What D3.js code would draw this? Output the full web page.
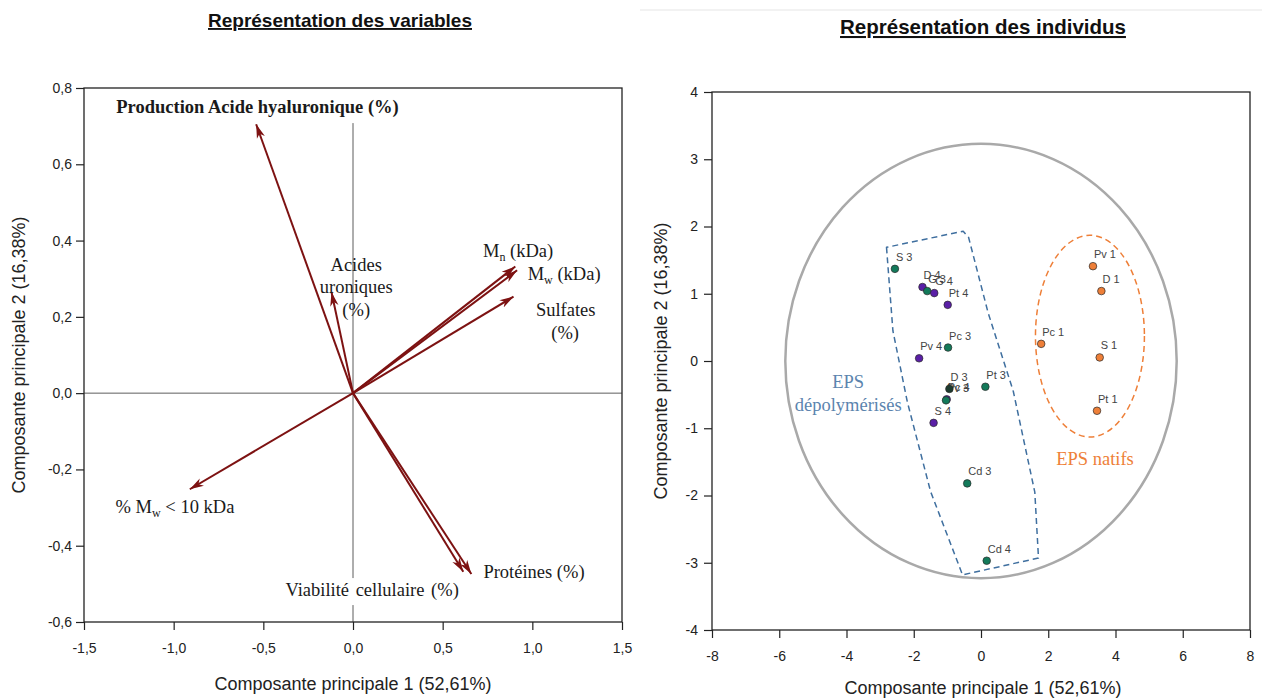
<!DOCTYPE html>
<html>
<head>
<meta charset="utf-8">
<script src="https://cdn.jsdelivr.net/npm/d3@7"></script>
<style>
  html, body { margin: 0; padding: 0; background: #fff; }
  svg { display: block; }
</style>
</head>
<body>
<svg id="chart" width="1262" height="699"></svg>
<script>
// ---------- DATA: variables (correlation circle) ----------
const varNames = ["Production Acide hyaluronique (%)", "Acides uroniques (%)", "Mn (kDa)", "Mw (kDa)",
                  "Sulfates (%)", "% Mw < 10 kDa", "Viabilité cellulaire (%)", "Protéines (%)"];
const varPC1 = [-0.54, -0.12, 0.905, 0.915, 0.895, -0.91, 0.615, 0.66];
const varPC2 = [0.705, 0.265, 0.332, 0.322, 0.253, -0.252, -0.468, -0.474];

// ---------- DATA: individuals ----------
const indNames  = ["S 3", "D 4", "G 3", "G 4", "Pt 4", "Pc 3", "Pv 4", "Pc 4", "D 3", "Pv 3", "Pt 3", "S 4", "Cd 3", "Cd 4",
                   "Pv 1", "D 1", "Pc 1", "S 1", "Pt 1"];
const indPC1    = [-2.56, -1.74, -1.60, -1.39, -0.99, -0.98, -1.84, -1.02, -0.94, -1.04, 0.13, -1.41, -0.41, 0.17,
                   3.33, 3.58, 1.79, 3.53, 3.45];
const indPC2    = [1.37, 1.10, 1.04, 1.01, 0.835, 0.20, 0.04, -0.57, -0.415, -0.585, -0.383, -0.92, -1.82, -2.97,
                   1.41, 1.04, 0.255, 0.053, -0.74];
const indGroup  = ["g", "p", "g", "p", "p", "g", "p", "p", "d", "g", "g", "p", "g", "g",
                   "o", "o", "o", "o", "o"];

// ---------- tick values ----------
const leftXTicks = [-1.5, -1.0, -0.5, 0.0, 0.5, 1.0, 1.5];
const leftYTicks = [-0.6, -0.4, -0.2, 0.0, 0.2, 0.4, 0.6, 0.8];
const rightXTicks = [-8, -6, -4, -2, 0, 2, 4, 6, 8];
const rightYTicks = [-4, -3, -2, -1, 0, 1, 2, 3, 4];

// ---------- enclosing shapes (data units) ----------
const bigEllipse = [0, 0, 5.82, 3.23];        // cx, cy, rx, ry
const nativeEllipse = [3.24, 0.37, 1.62, 1.50];
const depolyHullX = [-2.81, -2.62, -2.19, -1.50, -0.55, 1.71, 1.60, 0.96, 0.21, -0.37, -0.53];
const depolyHullY = [1.69, 0.45, -0.61, -1.94, -3.18, -2.93, -1.95, -0.45, 0.72, 1.84, 1.93];

const svg = d3.select("#chart");
const fixMinus = s => s.replace("\u2212", "-");
const fmtComma = d => fixMinus(d3.format(".1f")(d).replace(".", ","));
const fmtInt = d => fixMinus(d3.format("d")(d));

// ================= LEFT PANEL =================
const xL = d3.scaleLinear().domain([-1.5, 1.5]).range([84, 622]);
const yL = d3.scaleLinear().domain([-0.6, 0.8]).range([622, 88]);
const left = svg.append("g");

left.append("text").attr("x", 340).attr("y", 27).attr("text-anchor", "middle")
  .attr("font-family", "Liberation Sans, Arial").attr("font-weight", "bold").attr("font-size", 19)
  .attr("text-decoration", "underline").attr("fill", "#111").text("Représentation des variables");

// axes
const axL = left.append("g").attr("transform", `translate(${xL.range()[0]},0)`)
  .call(d3.axisLeft(yL).tickValues(leftYTicks).tickFormat(fmtComma).tickSize(8).tickSizeOuter(0).tickPadding(4));
const axB = left.append("g").attr("transform", `translate(0,${yL.range()[0]})`)
  .call(d3.axisBottom(xL).tickValues(leftXTicks).tickFormat(fmtComma).tickSize(8).tickSizeOuter(0).tickPadding(13));
[axL, axB].forEach(a => {
  a.select(".domain").remove();
  a.selectAll("line").attr("stroke", "#222").attr("stroke-width", 1.2);
  a.selectAll("text").attr("font-family", "Liberation Sans, Arial").attr("font-size", 14).attr("fill", "#222");
});
left.append("rect").attr("x", xL.range()[0]).attr("y", yL.range()[1])
  .attr("width", xL.range()[1] - xL.range()[0]).attr("height", yL.range()[0] - yL.range()[1])
  .attr("fill", "none").attr("stroke", "#222").attr("stroke-width", 1.3);

// zero lines
left.append("line").attr("x1", xL.range()[0]).attr("x2", xL.range()[1]).attr("y1", yL(0)).attr("y2", yL(0))
  .attr("stroke", "#333").attr("stroke-width", 0.8);
left.append("line").attr("x1", xL(0)).attr("x2", xL(0)).attr("y1", yL(0.708)).attr("y2", yL.range()[0])
  .attr("stroke", "#333").attr("stroke-width", 0.8);

// axis titles
left.append("text").attr("x", 353).attr("y", 690).attr("text-anchor", "middle")
  .attr("font-family", "Liberation Sans, Arial").attr("font-size", 18).attr("fill", "#222")
  .text("Composante principale 1 (52,61%)");
left.append("text").attr("transform", "translate(25,355) rotate(-90)").attr("text-anchor", "middle")
  .attr("font-family", "Liberation Sans, Arial").attr("font-size", 18).attr("fill", "#222")
  .text("Composante principale 2 (16,38%)");

// arrow marker
const arrowCol = "#7d1212";
svg.append("defs").append("marker").attr("id", "ah")
  .attr("viewBox", "-14 -5 15 10").attr("refX", 0).attr("refY", 0)
  .attr("markerWidth", 15).attr("markerHeight", 10).attr("markerUnits", "userSpaceOnUse")
  .attr("orient", "auto")
  .append("path").attr("d", "M0,0 L-14,-4.2 L-10,0 L-14,4.2 Z").attr("fill", arrowCol);

const serif = "Liberation Serif, Times New Roman";
const labFS = 18.5;

// Viabilité label with white background (interrupts zero line)
const varLabelG = left.append("g").attr("font-family", serif).attr("font-size", labFS).attr("fill", "#1a1a1a");
const via = varLabelG.append("text").attr("x", xL(-0.377)).attr("y", yL(-0.532)).attr("word-spacing", 2).text(varNames[6]);
const vb = via.node().getBBox();
varLabelG.insert("rect", "text").attr("x", vb.x - 2).attr("y", vb.y - 2).attr("width", vb.width + 4).attr("height", vb.height + 6).attr("fill", "#fff");

left.append("g").selectAll("line").data(varNames).join("line")
  .attr("x1", xL(0)).attr("y1", yL(0))
  .attr("x2", (d, i) => xL(varPC1[i])).attr("y2", (d, i) => yL(varPC2[i]))
  .attr("stroke", arrowCol).attr("stroke-width", 2).attr("marker-end", "url(#ah)");

const labG = left.append("g").attr("font-family", serif).attr("font-size", labFS).attr("fill", "#1a1a1a");
labG.append("text").attr("x", xL(-1.32)).attr("y", yL(0.735)).attr("font-weight", "bold").text(varNames[0]);
[["Acides", 0.321], ["uroniques", 0.263], ["(%)", 0.203]].forEach(([t, y]) =>
  labG.append("text").attr("x", xL(0.018)).attr("y", yL(y)).attr("text-anchor", "middle").text(t));
function sub(x, y, main, s, rest) {
  const t = labG.append("text").attr("x", xL(x)).attr("y", yL(y));
  t.append("tspan").text(main);
  t.append("tspan").attr("font-size", 12).attr("dy", 4).text(s);
  t.append("tspan").attr("dy", -4).text(rest);
}
sub(0.725, 0.358, "M", "n", " (kDa)");
sub(0.974, 0.296, "M", "w", " (kDa)");
labG.append("text").attr("x", xL(1.02)).attr("y", yL(0.201)).text("Sulfates");
labG.append("text").attr("x", xL(1.183)).attr("y", yL(0.142)).attr("text-anchor", "middle").text("(%)");
{
  const t = labG.append("text").attr("x", xL(-1.324)).attr("y", yL(-0.314));
  t.append("tspan").text("% M");
  t.append("tspan").attr("font-size", 12).attr("dy", 4).text("w");
  t.append("tspan").attr("dy", -4).text(" < 10 kDa");
}
labG.append("text").attr("x", xL(0.727)).attr("y", yL(-0.485)).text(varNames[7]);

// ================= RIGHT PANEL =================
const xR = d3.scaleLinear().domain([-8, 8]).range([712, 1250]);
const yR = d3.scaleLinear().domain([-4, 4]).range([630, 92]);
const right = svg.append("g");

right.append("line").attr("x1", 640).attr("x2", 1262).attr("y1", 10).attr("y2", 10).attr("stroke", "#eee").attr("stroke-width", 1.5);

right.append("text").attr("x", 983).attr("y", 34).attr("text-anchor", "middle")
  .attr("font-family", "Liberation Sans, Arial").attr("font-weight", "bold").attr("font-size", 20.5)
  .attr("text-decoration", "underline").attr("fill", "#111").text("Représentation des individus");

const axRL = right.append("g").attr("transform", `translate(${xR.range()[0]},0)`)
  .call(d3.axisLeft(yR).tickValues(rightYTicks).tickFormat(fmtInt).tickSize(8).tickSizeOuter(0).tickPadding(6));
const axRB = right.append("g").attr("transform", `translate(0,${yR.range()[0]})`)
  .call(d3.axisBottom(xR).tickValues(rightXTicks).tickFormat(fmtInt).tickSize(8).tickSizeOuter(0).tickPadding(13));
[axRL, axRB].forEach(a => {
  a.select(".domain").remove();
  a.selectAll("line").attr("stroke", "#222").attr("stroke-width", 1.2);
  a.selectAll("text").attr("font-family", "Liberation Sans, Arial").attr("font-size", 14).attr("fill", "#222");
});
right.append("rect").attr("x", xR.range()[0]).attr("y", yR.range()[1])
  .attr("width", xR.range()[1] - xR.range()[0]).attr("height", yR.range()[0] - yR.range()[1])
  .attr("fill", "none").attr("stroke", "#222").attr("stroke-width", 1.3);

right.append("text").attr("x", 983).attr("y", 694).attr("text-anchor", "middle")
  .attr("font-family", "Liberation Sans, Arial").attr("font-size", 18).attr("fill", "#222")
  .text("Composante principale 1 (52,61%)");
right.append("text").attr("transform", "translate(667,361) rotate(-90)").attr("text-anchor", "middle")
  .attr("font-family", "Liberation Sans, Arial").attr("font-size", 18).attr("fill", "#222")
  .text("Composante principale 2 (16,38%)");

// big grey ellipse
right.append("ellipse").attr("cx", xR(bigEllipse[0])).attr("cy", yR(bigEllipse[1]))
  .attr("rx", xR(bigEllipse[2]) - xR(0)).attr("ry", yR(0) - yR(bigEllipse[3]))
  .attr("fill", "none").attr("stroke", "#a9a9a9").attr("stroke-width", 2.5);

// native ellipse
const orange = "#ee7f38";
right.append("ellipse").attr("cx", xR(nativeEllipse[0])).attr("cy", yR(nativeEllipse[1]))
  .attr("rx", xR(nativeEllipse[2]) - xR(0)).attr("ry", yR(0) - yR(nativeEllipse[3]))
  .attr("fill", "none").attr("stroke", orange).attr("stroke-width", 1.5).attr("stroke-dasharray", "6,4");

// depolymerised hull
const blue = "#3f6f9f";
right.append("path")
  .attr("d", d3.line().x(d => xR(d[0])).y(d => yR(d[1])).curve(d3.curveLinearClosed)(depolyHullX.map((x, i) => [x, depolyHullY[i]])))
  .attr("fill", "none").attr("stroke", blue).attr("stroke-width", 1.5).attr("stroke-dasharray", "6,4").attr("stroke-linejoin", "round");

// group labels
const grpG = right.append("g").attr("font-family", serif).attr("font-size", 18.5).attr("text-anchor", "middle");
grpG.append("text").attr("x", xR(-3.95)).attr("y", yR(-0.40)).attr("fill", "#5b84ae").text("EPS");
grpG.append("text").attr("x", xR(-3.95)).attr("y", yR(-0.745)).attr("fill", "#5b84ae").text("dépolymérisés");
grpG.append("text").attr("x", xR(3.39)).attr("y", yR(-1.54)).attr("fill", orange).text("EPS natifs");

// points
const colorOf = { g: "#137a5a", p: "#5a1fa6", o: orange, d: "#1d3b2e" };
const idx = d3.range(indNames.length);
right.append("g").selectAll("text").data(idx).join("text")
  .attr("x", i => xR(indPC1[i]) + 1).attr("y", i => yR(indPC2[i]) - 8)
  .attr("font-family", "Liberation Sans, Arial").attr("font-size", 11).attr("fill", "#444")
  .text(i => indNames[i]);
right.append("g").selectAll("circle").data(idx).join("circle")
  .attr("cx", i => xR(indPC1[i])).attr("cy", i => yR(indPC2[i])).attr("r", 3.8)
  .attr("fill", i => colorOf[indGroup[i]]).attr("stroke", "#2a2a2a").attr("stroke-width", 0.7);
</script>
</body>
</html>
